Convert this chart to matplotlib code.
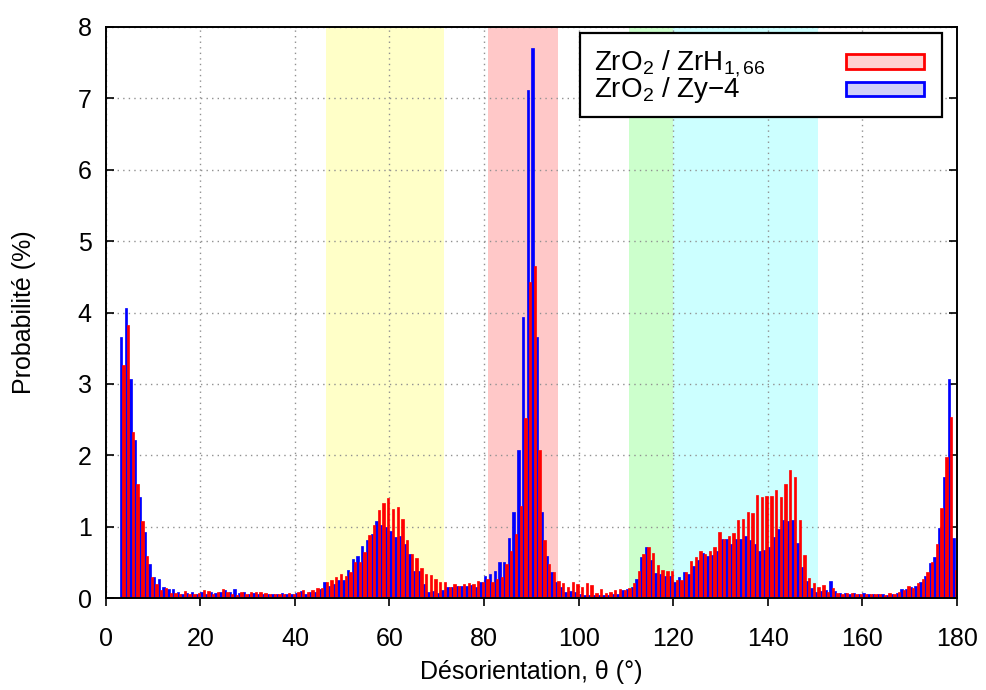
import numpy as np
import matplotlib
matplotlib.use("Agg")
import matplotlib.pyplot as plt
from matplotlib.patches import Rectangle

plt.rcParams['font.family'] = ['Liberation Sans', 'DejaVu Sans']
plt.rcParams['mathtext.fontset'] = 'custom'
plt.rcParams['mathtext.rm'] = 'Liberation Sans'
plt.rcParams['mathtext.it'] = 'Liberation Sans:italic'

# 1 degree bins, from 3 to 179 (left edge)
bin_start = np.arange(3, 180)

# ZrO2 / Zy-4 (blue)
zy4 = [3.66, 4.06, 3.07, 2.22, 1.42, 0.92, 0.47, 0.29, 0.27, 0.15,   # 3-12
       0.13, 0.12, 0.08, 0.06, 0.07, 0.08, 0.05, 0.09, 0.05, 0.09,   # 13-22
       0.07, 0.08, 0.11, 0.09, 0.12, 0.07, 0.09, 0.06, 0.07, 0.06,   # 23-32
       0.05, 0.06, 0.05, 0.05, 0.07, 0.06, 0.06, 0.07, 0.10, 0.056,  # 33-42
       0.079, 0.079, 0.126, 0.22, 0.17, 0.195, 0.256, 0.256, 0.395, 0.544,  # 43-52
       0.59, 0.73, 0.81, 0.89, 1.08, 1.03, 1.00, 0.94, 0.856, 0.87,  # 53-62
       0.76, 0.62, 0.38, 0.38, 0.195, 0.079, 0.10, 0.07, 0.11, 0.15,  # 63-72
       0.15, 0.17, 0.165, 0.17, 0.18, 0.155, 0.22, 0.31, 0.33, 0.38,  # 73-82
       0.50, 0.50, 0.84, 1.20, 2.08, 3.94, 7.12, 7.71, 3.65, 1.21,   # 83-92
       0.59, 0.36, 0.22, 0.155, 0.08, 0.10, 0.08, 0.06, 0.04, 0.04,  # 93-102
       0.04, 0.04, 0.04, 0.04, 0.06, 0.06, 0.107, 0.13, 0.16, 0.27,  # 103-112
       0.57, 0.715, 0.53, 0.355, 0.33, 0.31, 0.31, 0.22, 0.29, 0.37,  # 113-122
       0.34, 0.45, 0.53, 0.625, 0.59, 0.60, 0.66, 0.82, 0.83, 0.75,  # 123-132
       0.83, 0.83, 0.87, 0.81, 0.75, 0.66, 0.67, 0.72, 0.86, 0.965,  # 133-142
       1.09, 1.08, 1.09, 0.77, 0.44, 0.24, 0.145, 0.084, 0.10, 0.107,  # 143-152
       0.24, 0.10, 0.07, 0.07, 0.06, 0.07, 0.05, 0.07, 0.05, 0.06,   # 153-162
       0.06, 0.05, 0.04, 0.05, 0.07, 0.13, 0.12, 0.15, 0.17, 0.22,   # 163-172
       0.31, 0.49, 0.58, 0.98, 1.70, 3.07, 0.84]                     # 173-179

# ZrO2 / ZrH1,66 (red)
zrh = [3.27, 3.82, 2.33, 1.60, 1.08, 0.59, 0.30, 0.20, 0.11, 0.14,   # 3-12
       0.07, 0.07, 0.06, 0.10, 0.06, 0.05, 0.07, 0.11, 0.10, 0.06,   # 13-22
       0.09, 0.12, 0.09, 0.06, 0.04, 0.08, 0.06, 0.08, 0.09, 0.08,   # 23-32
       0.07, 0.06, 0.05, 0.06, 0.06, 0.07, 0.06, 0.08, 0.11, 0.088,  # 33-42
       0.116, 0.14, 0.14, 0.22, 0.25, 0.30, 0.335, 0.31, 0.36, 0.50,  # 43-52
       0.51, 0.64, 0.88, 1.03, 1.23, 1.33, 1.40, 1.25, 1.27, 1.11,   # 53-62
       0.81, 0.62, 0.56, 0.42, 0.335, 0.32, 0.26, 0.22, 0.22, 0.16,  # 63-72
       0.19, 0.165, 0.20, 0.21, 0.19, 0.24, 0.22, 0.26, 0.22, 0.26,  # 73-82
       0.30, 0.48, 0.66, 0.89, 1.29, 2.52, 4.43, 4.65, 2.08, 0.81,   # 83-92
       0.48, 0.36, 0.24, 0.21, 0.155, 0.22, 0.20, 0.154, 0.215, 0.18,  # 93-102
       0.075, 0.12, 0.075, 0.09, 0.107, 0.126, 0.107, 0.145, 0.21, 0.38,  # 103-112
       0.61, 0.72, 0.63, 0.46, 0.39, 0.38, 0.38, 0.25, 0.25, 0.37,   # 113-122
       0.52, 0.57, 0.66, 0.62, 0.66, 0.72, 0.92, 0.83, 0.87, 0.91,   # 123-132
       1.10, 1.11, 1.21, 1.19, 1.44, 1.42, 1.43, 1.43, 1.51, 1.41,   # 133-142
       1.60, 1.79, 1.70, 1.10, 0.60, 0.28, 0.21, 0.16, 0.18, 0.09,   # 143-152
       0.135, 0.075, 0.06, 0.07, 0.07, 0.05, 0.06, 0.05, 0.06, 0.06,  # 153-162
       0.05, 0.04, 0.07, 0.06, 0.09, 0.11, 0.17, 0.14, 0.21, 0.27,   # 163-172
       0.36, 0.51, 0.75, 1.26, 1.97, 2.54, 0.39]                     # 173-179

# shaded angular ranges
bands = [(46.5, 71.5, '#ffffc8'), (80.8, 95.6, '#ffc8c8'),
         (110.6, 120.0, '#ccffcc'), (120.0, 150.6, '#ccffff')]

fig = plt.figure(figsize=(9.86, 6.9), dpi=100)
ax = fig.add_axes([0.1072, 0.1333, 0.8634, 0.8276])

for lo, hi, col in bands:
    ax.axvspan(lo, hi, color=col, lw=0, zorder=0)

ax.bar(bin_start + 0.25, zy4, width=0.5, color='#0000ff', ec='#0000ff', lw=0.5, zorder=2)
ax.bar(bin_start + 0.75, zrh, width=0.5, color='#ff0000', ec='#ff0000', lw=0.5, zorder=2)

ax.set_xlim(0, 180)
ax.set_ylim(0, 8)
ax.set_xticks(np.arange(0, 181, 20))
ax.set_yticks(np.arange(0, 9, 1))
ax.set_axisbelow(True)
ax.grid(True, ls=(0, (1, 3)), color='#909090', lw=1, zorder=0.5)

ax.tick_params(axis='x', direction='out', length=6, width=1.2, labelsize=18, pad=15,
               top=False)
ax.tick_params(axis='y', direction='in', length=6, width=1.2, labelsize=18, pad=10,
               right=True)
for s in ax.spines.values():
    s.set_linewidth(1.4)

ax.set_xlabel('Désorientation, θ (°)', fontsize=18, labelpad=6)
ax.set_ylabel('Probabilité (%)', fontsize=18, labelpad=30)

# legend, drawn by hand so the labels stay left aligned
ax.add_patch(Rectangle((0.557, 0.842), 0.425, 0.147, transform=ax.transAxes,
                       facecolor='white', edgecolor='black', lw=1.6, zorder=5))
ax.text(0.574, 0.925, r'ZrO$_{\mathregular{2}}$ / ZrH$_{\mathregular{1,66}}$',
        transform=ax.transAxes, fontsize=20, va='baseline', zorder=6)
ax.text(0.574, 0.877, r'ZrO$_{\mathregular{2}}$ / Zy$-$4',
        transform=ax.transAxes, fontsize=20, va='baseline', zorder=6)
ax.add_patch(Rectangle((0.870, 0.926), 0.091, 0.027, transform=ax.transAxes,
                       facecolor='#ffd0d0', edgecolor='#ff0000', lw=2, zorder=6))
ax.add_patch(Rectangle((0.870, 0.879), 0.091, 0.024, transform=ax.transAxes,
                       facecolor='#d0d0f8', edgecolor='#0000ff', lw=2, zorder=6))

fig.savefig('out.png', dpi=100)
